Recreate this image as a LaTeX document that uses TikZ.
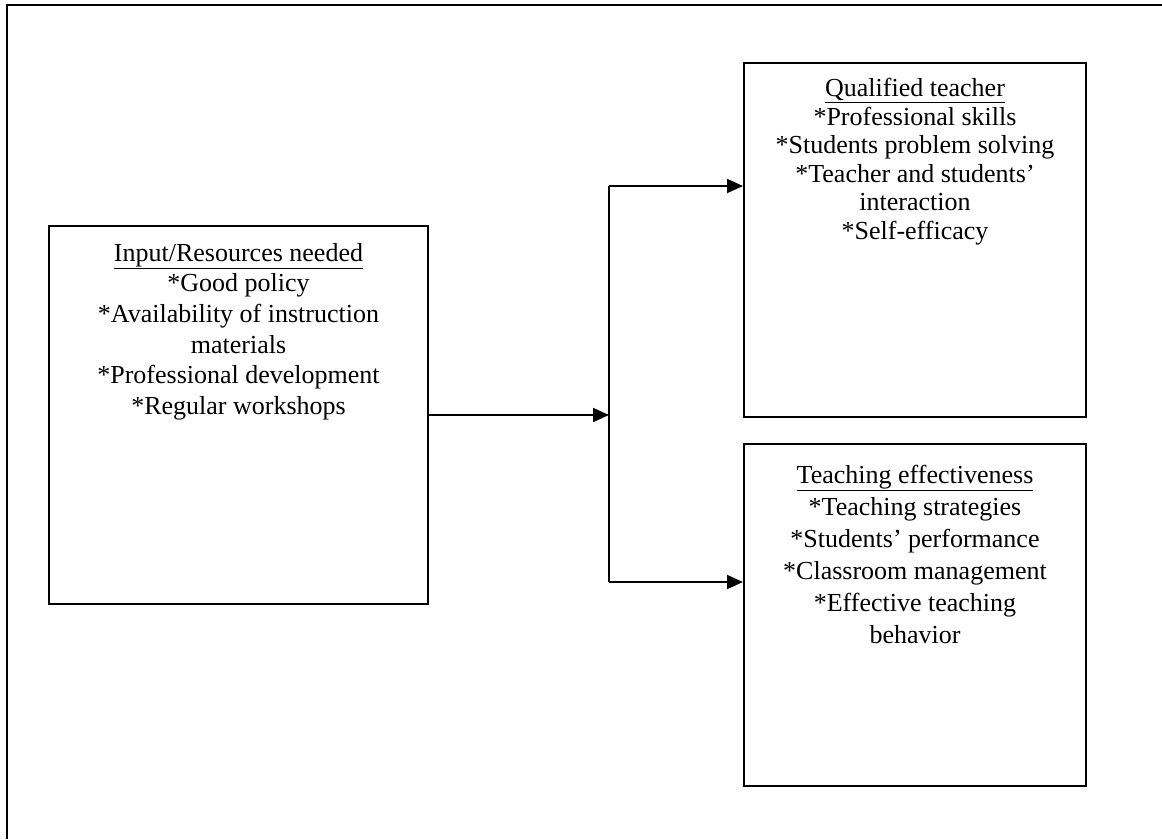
\documentclass[tikz,border=0pt]{standalone}
\usepackage{fontspec}
\setmainfont{Liberation Serif}
\usetikzlibrary{positioning, calc, arrows.meta}

\begin{document}
\begin{tikzpicture}[x=1pt, y=-1pt,
    box/.style={draw, line width=2pt, rectangle, inner sep=0pt, anchor=north west},
    boxtext/.style={align=center, inner sep=0pt, anchor=north,
                    font=\fontsize{26}{#1}\selectfont},
    boxtext/.default=30.6,
    link/.style={line width=1.8pt},
    linkarrow/.style={link, -{Triangle[length=16pt, width=14pt]}}]
        % Page size and the cropped outer frame (top and left only)
        \useasboundingbox (0, 0) rectangle (1162, 839);
        \draw[line width=2.6pt] (7, 839) -- (7, 5) -- (1162, 5);

        % ── Boxes ────────────────────────────────────────────────────────
        \node[box, minimum width=379, minimum height=378] (input) at (48, 225) {};
        \node[box, minimum width=342, minimum height=354] (qualified) at (743, 62) {};
        \node[box, minimum width=342, minimum height=342] (effective) at (743, 443) {};

        % ── Box texts ────────────────────────────────────────────────────
        \node[boxtext, below=18pt of input.north] (inputtext)
              {\underline{Input/Resources needed}\\
               *Good policy\\
               *Availability of instruction\\
               materials\\
               *Professional development\\
               *Regular workshops};
        \node[boxtext=28.6, below=16pt of qualified.north] (qualifiedtext)
              {\underline{Qualified teacher}\\
               *Professional skills\\
               *Students problem solving\\
               *Teacher and students’\\
               interaction\\
               *Self-efficacy};
        \node[boxtext=32, below=22pt of effective.north] (effectivetext)
              {\underline{Teaching effectiveness}\\
               *Teaching strategies\\
               *Students’ performance\\
               *Classroom management\\
               *Effective teaching\\
               behavior};

        % ── Connectors ───────────────────────────────────────────────────
        \coordinate (split) at (609, 415);
        \coordinate (splittop) at (609, 186);
        \coordinate (splitbot) at (609, 582);
        \draw[linkarrow] (input.east) -- (split);
        \draw[link] (splittop) -- (splitbot);
        \draw[linkarrow] (splittop) -- (splittop -| qualified.west);
        \draw[linkarrow] (splitbot) -- (splitbot -| effective.west);
      \end{tikzpicture}
\end{document}
